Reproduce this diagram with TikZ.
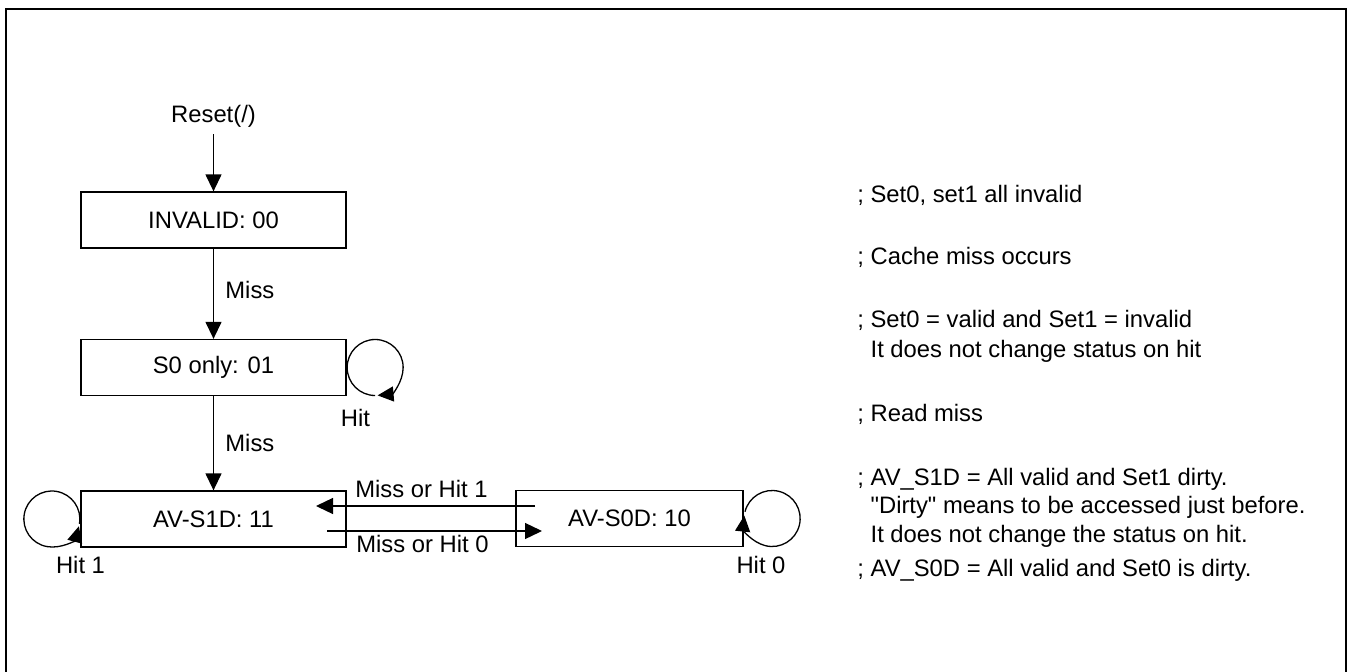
\documentclass[tikz,border=0pt]{standalone}
\usepackage{fontspec}
\setmainfont{Liberation Sans}[Ligatures=TeXOff]
\usetikzlibrary{arrows.meta}
\begin{document}
\begin{tikzpicture}[
    x=0.5pt, y=0.5pt,
    font=\fontsize{11.9pt}{14pt}\selectfont,
    state/.style={draw,line width=0.65pt,minimum height=28pt,inner sep=0pt},
    conn/.style={line width=0.65pt,-{Triangle[length=8.5pt,width=8pt]}},
    selfloop/.style={line width=0.65pt,-{Triangle[length=8pt,width=7.5pt]}},
    lbl/.style={inner sep=0pt},
    note/.style={anchor=base west,inner sep=0pt,align=left}
]

\useasboundingbox (0,0) rectangle (1353,671);

% -------------------------------------------------
% Frame (bottom edge lies outside the page)
% -------------------------------------------------

\draw[line width=1pt] (6,-6) -- (6,661.5) -- (1346,661.5) -- (1346,-6);

% -------------------------------------------------
% States
% -------------------------------------------------

\node[state,minimum width=132.5pt] (inv) at (213.5,451)   {INVALID: 00};
\node[state,minimum width=132.5pt] (s0)  at (213.5,303.5) {S0 only: 01};
\node[state,minimum width=132.5pt] (s1d) at (213.5,152)   {AV-S1D: 11};
\node[state,minimum width=113.5pt] (s0d) at (629.5,152.5) {AV-S0D: 10};

\node (reset) at (213.5,555) {Reset(/)};

% -------------------------------------------------
% Transitions
% -------------------------------------------------

\draw[conn] (reset.south) -- (inv.north);
\draw[conn] (inv.south) -- (s0.north);
\draw[conn] (s0.south) -- (s1d.north);

% Miss or Hit 1 / Miss or Hit 0
\coordinate (h1a) at (535,165);
\coordinate (h1b) at (316,165);
\coordinate (h0a) at (327,140);
\coordinate (h0b) at (542,140);

\draw[conn] (h1a) -- (h1b);
\draw[conn] (h0a) -- (h0b);

% Self loops
\draw[selfloop] (s0.east) ++(28.5,-28) arc[start angle=270,end angle=-85,radius=28];
\draw[selfloop] (s1d.west) ++(-28.5,0) ++(-10:28) arc[start angle=-10,end angle=345,radius=28];
\draw[selfloop] (s0d.east) ++(28.5,0) ++(166:28) arc[start angle=166,end angle=-186,radius=28];

% -------------------------------------------------
% Labels
% -------------------------------------------------

\node[lbl,anchor=west] (miss1) at (225,381) {Miss};
\node[lbl,anchor=west] (miss2) at (225,228) {Miss};
\node[lbl] (hit)  at (355.5,253) {Hit};
\node[lbl] (hit1) at (80.5,106)  {Hit 1};
\node[lbl] (hit0) at (761,106)   {Hit 0};
\node[lbl] (mh1)  at (421.5,182.5) {Miss or Hit 1};
\node[lbl] (mh0)  at (422.5,127)   {Miss or Hit 0};

% -------------------------------------------------
% Notes (base = baseline of the last line)
% -------------------------------------------------

\node[note] (n1) at (857,468.7) {; Set0, set1 all invalid};
\node[note] (n2) at (857,407)   {; Cache miss occurs};
\node[note,font=\fontsize{11.9pt}{15pt}\selectfont] (n3) at (857,313.3)
    {; Set0 = valid and Set1 = invalid\\
     \hphantom{; }It does not change status on hit};
\node[note] (n4) at (857,249.3) {; Read miss};
\node[note,font=\fontsize{11.9pt}{14.25pt}\selectfont] (n5) at (857,128.7)
    {; AV\_S1D = All valid and Set1 dirty.\\
     \hphantom{; }"Dirty" means to be accessed just before.\\
     \hphantom{; }It does not change the status on hit.};
\node[note] (n6) at (857,94.3)  {; AV\_S0D = All valid and Set0 is dirty.};

\end{tikzpicture}
\end{document}
